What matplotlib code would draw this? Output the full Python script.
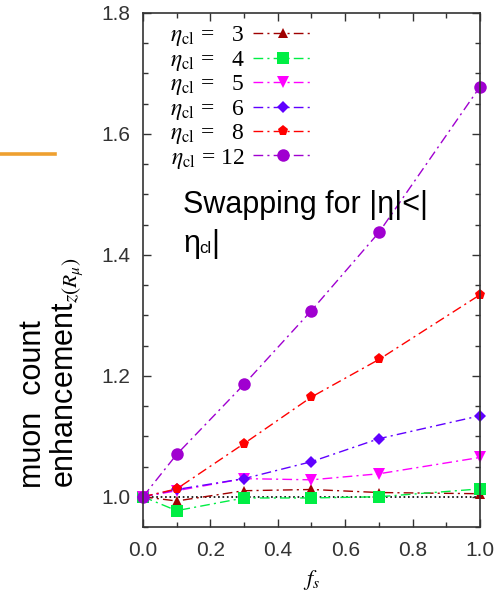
import numpy as np
import matplotlib
matplotlib.use("Agg")
import matplotlib.pyplot as plt
from matplotlib.lines import Line2D

plt.rcParams['font.family'] = ['Liberation Sans', 'DejaVu Sans']
plt.rcParams['mathtext.fontset'] = 'stix'

# valeurs
fs = [0.0, 0.1, 0.3, 0.5, 0.7, 1.0]
eta3 = [1.0, 0.993, 1.010, 1.012, 1.007, 1.005]
eta4 = [1.0, 0.977, 0.998, 0.998, 1.000, 1.013]
eta5 = [1.0, 1.010, 1.030, 1.028, 1.038, 1.065]
eta6 = [1.0, 1.012, 1.030, 1.058, 1.096, 1.134]
eta8 = [1.0, 1.013, 1.088, 1.165, 1.227, 1.334]
eta12 = [1.0, 1.070, 1.186, 1.308, 1.437, 1.678]
ref_x = [0.0, 1.0]
ref_y = [1.0, 1.0]

labels = [r"$\eta_{\rm cl}$ =   3", r"$\eta_{\rm cl}$ =   4", r"$\eta_{\rm cl}$ =   5",
          r"$\eta_{\rm cl}$ =   6", r"$\eta_{\rm cl}$ =   8", r"$\eta_{\rm cl}$ = 12"]
series = [eta3, eta4, eta5, eta6, eta8, eta12]
colors = ['#a00000', '#00ee44', '#ff00ff', '#6000ff', '#ff0000', '#a000d0']
markers = ['^', 's', 'v', 'D', 'p', 'o']
msizes = [7, 9, 8, 6, 8, 9]

fig = plt.figure(figsize=(4.97, 6.04), dpi=100)
ax = fig.add_axes([0.2877, 0.1275, 0.6781, 0.851])

dash = (0, (7, 3, 1.5, 3))
ax.plot(ref_x, ref_y, color='black', ls=':', lw=1.2, zorder=1)
for s, lab, c, m, ms in zip(series, labels, colors, markers, msizes):
    ax.plot(fs, s, color=c, ls=dash, lw=1.0, marker=m, markersize=ms,
            markeredgewidth=0, label=lab, clip_on=False)

ax.set_xlim(0, 1)
ax.set_ylim(0.95, 1.8)
ax.set_xticks(np.arange(0, 1.01, 0.2))
ax.set_xticks(np.arange(0, 1.01, 0.1), minor=True)
ax.set_yticks([1.0, 1.2, 1.4, 1.6, 1.8])
ax.set_yticks(np.arange(0.95, 1.801, 0.05), minor=True)
ax.xaxis.set_major_formatter(matplotlib.ticker.FormatStrFormatter('%.1f'))
ax.yaxis.set_major_formatter(matplotlib.ticker.FormatStrFormatter('%.1f'))
ax.tick_params(which='both', direction='in', top=True, right=True,
               colors='#333333', labelsize=15)
ax.tick_params(which='major', length=6, width=1)
ax.tick_params(which='minor', length=3.5, width=1)
ax.tick_params(axis='x', pad=10)
ax.tick_params(axis='y', pad=9)
for sp in ax.spines.values():
    sp.set_color('#333333')
    sp.set_linewidth(1.2)

leg = ax.legend(loc='upper left', bbox_to_anchor=(0.03, 1.01), frameon=False,
                markerfirst=False, handlelength=2.55, handletextpad=0.35,
                labelspacing=0.02, borderaxespad=0.3,
                prop={'family': 'Liberation Serif', 'size': 17})

ax.text(0.119, 1.47, "Swapping for |η|<|", fontsize=22, va='baseline')
ax.text(0.119, 1.405, "η", fontsize=22, va='baseline')
ax.text(0.167, 1.403, "cl", fontsize=12, va='baseline')
ax.text(0.203, 1.405, "|", fontsize=22, va='baseline')

ax.set_xlabel(r"$f_s$", fontsize=16, labelpad=6)

fig.text(0.105, 0.192, "muon  count\nenhancement" + r"$_{z(R_\mu)}$",
         rotation=90, fontsize=22, ha='center', va='bottom',
         multialignment='left', linespacing=1.05)

# trait orange en haut a gauche
fig.add_artist(Line2D([0.0, 0.111], [1 - 153.5 / 604, 1 - 153.5 / 604],
                      color='#eea030', lw=2.6, transform=fig.transFigure))

fig.savefig('out.png', dpi=100)
